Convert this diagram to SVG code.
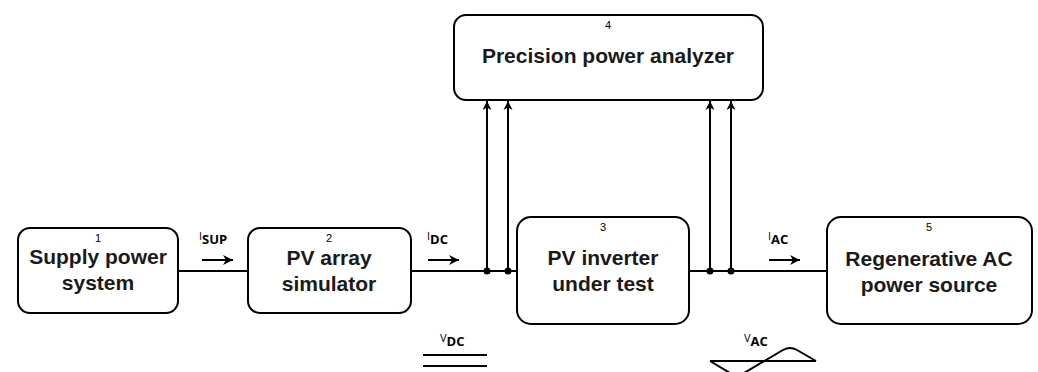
<svg xmlns="http://www.w3.org/2000/svg" width="1038" height="372" viewBox="0 0 1038 372">
<defs>
<marker id="ah" markerWidth="10" markerHeight="10" refX="9" refY="5" orient="auto" markerUnits="userSpaceOnUse">
<path d="M0,0.5 L9,5 L0,9.5 L2.5,5 Z" fill="#000"/>
</marker>
<marker id="sm" markerWidth="12" markerHeight="12" refX="10" refY="6" orient="auto" markerUnits="userSpaceOnUse">
<path d="M0,1 L10,6 L0,11 L3,6 Z" fill="#000"/>
</marker>
</defs>
<style>
.box{fill:#fff;stroke:#000;stroke-width:2}
.t{font-family:"Liberation Sans",Arial,sans-serif;font-weight:bold;font-size:21px;text-anchor:middle;fill:#1a1a1a}
.n{font-family:"Liberation Sans",Arial,sans-serif;font-size:11px;text-anchor:middle;fill:#000}
.w{stroke:#000;stroke-width:2;fill:none}
.lab{font-family:"Open Sans","Liberation Sans",sans-serif;font-size:11px;fill:#000}
.sub{font-size:13px;font-weight:bold}
</style>
<rect width="1038" height="372" fill="#fff"/>
<g id="connectors">
<line class="w" x1="178" y1="271" x2="248" y2="271"/>
<line class="w" x1="411" y1="271" x2="517" y2="271"/>
<line class="w" x1="689" y1="271" x2="827" y2="271"/>
<line class="w" x1="487" y1="271" x2="487" y2="101" marker-end="url(#ah)"/>
<line class="w" x1="508" y1="271" x2="508" y2="101" marker-end="url(#ah)"/>
<line class="w" x1="710" y1="271" x2="710" y2="101" marker-end="url(#ah)"/>
<line class="w" x1="731" y1="271" x2="731" y2="101" marker-end="url(#ah)"/>
<circle cx="487" cy="271" r="3.5" fill="#000"/>
<circle cx="508" cy="271" r="3.5" fill="#000"/>
<circle cx="710" cy="271" r="3.5" fill="#000"/>
<circle cx="731" cy="271" r="3.5" fill="#000"/>
</g>
<g id="current-arrows">
<line class="w" x1="202" y1="260" x2="233" y2="260" marker-end="url(#sm)"/>
<line class="w" x1="428" y1="260" x2="459" y2="260" marker-end="url(#sm)"/>
<line class="w" x1="769" y1="260" x2="800" y2="260" marker-end="url(#sm)"/>
<text class="lab" x="199" y="240">I<tspan class="sub" dy="4">SUP</tspan></text>
<text class="lab" x="427" y="240">I<tspan class="sub" dy="4">DC</tspan></text>
<text class="lab" x="768" y="240">I<tspan class="sub" dy="4">AC</tspan></text>
</g>
<g id="vdc">
<text class="lab" x="440" y="342">V<tspan class="sub" dy="4">DC</tspan></text>
<line class="w" x1="423" y1="355" x2="487" y2="355"/>
<line class="w" x1="423" y1="366" x2="487" y2="366"/>
</g>
<g id="vac">
<text class="lab" x="744" y="342">V<tspan class="sub" dy="4">AC</tspan></text>
<line class="w" x1="710" y1="361" x2="816" y2="361"/>
<path class="w" d="M710,361 L730,373 Q737,377 744,373 L783,350 Q790,346 797,350 L816,361"/>
</g>
<g id="node1">
<rect class="box" x="18" y="228" width="160" height="85" rx="12"/>
<text class="n" x="98" y="242">1</text>
<text class="t" x="98" y="264">Supply power</text>
<text class="t" x="98" y="290">system</text>
</g>
<g id="node2">
<rect class="box" x="248" y="228" width="163" height="85" rx="12"/>
<text class="n" x="329" y="242">2</text>
<text class="t" x="329" y="265">PV array</text>
<text class="t" x="329" y="291">simulator</text>
</g>
<g id="node3">
<rect class="box" x="517" y="217" width="172" height="107" rx="14"/>
<text class="n" x="603" y="231">3</text>
<text class="t" x="603" y="265">PV inverter</text>
<text class="t" x="603" y="291">under test</text>
</g>
<g id="node4">
<rect class="box" x="454" y="15" width="309" height="85" rx="12"/>
<text class="n" x="608" y="29">4</text>
<text class="t" x="608" y="63">Precision power analyzer</text>
</g>
<g id="node5">
<rect class="box" x="827" y="217" width="205" height="107" rx="14"/>
<text class="n" x="929" y="231">5</text>
<text class="t" x="929" y="266">Regenerative AC</text>
<text class="t" x="929" y="292">power source</text>
</g>
</svg>
